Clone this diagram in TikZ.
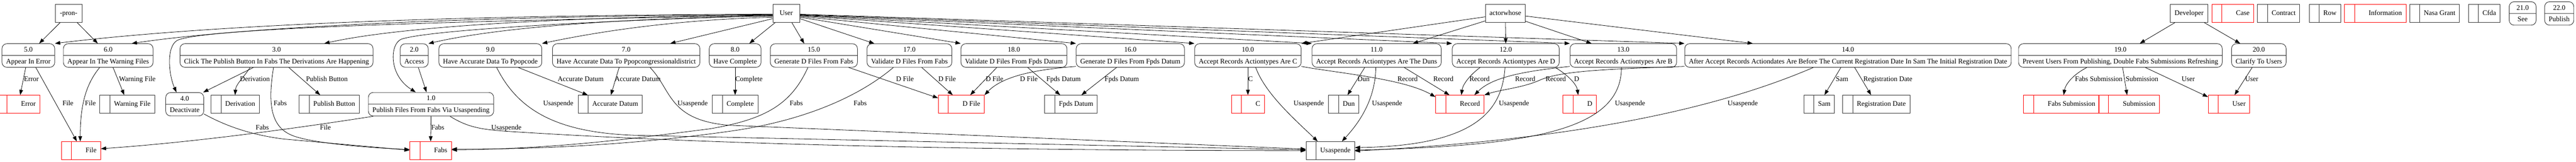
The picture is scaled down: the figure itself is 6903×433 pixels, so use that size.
\documentclass[tikz,border=0pt]{standalone}
\usepackage{fontspec}
\setmainfont{Liberation Serif}
\usepackage{tikz}
\usetikzlibrary{arrows.meta}
\usetikzlibrary{shapes.multipart}

\definecolor{gvred}{HTML}{FF0000}
\definecolor{gvline}{HTML}{333333}
\newcommand{\pst}{\rule[-3.5pt]{0pt}{19pt}}

\tikzset{
	proc/.style={rectangle split, rectangle split parts=2, draw=gvline,
		line width=1.3pt, rounded corners=13pt, inner xsep=11pt, inner ysep=5.5pt,
		minimum width=72pt},
	ext/.style={draw=gvline, line width=1.3pt, minimum width=72pt,
		minimum height=48pt, inner xsep=11pt, text height=13pt, text depth=4pt},
	datastore/.style={draw=#1, line width=1.3pt, minimum width=72pt,
		minimum height=48pt, inner xsep=11pt, inner ysep=0pt,
		text height=13pt, text depth=4pt,
		execute at begin node={\hspace*{27pt}},
		path picture={\draw[#1, line width=1.3pt]
			([xshift=27pt]path picture bounding box.north west) --
			([xshift=27pt]path picture bounding box.south west);}},
	datastore/.default=gvline,
	flowline/.style={draw=black, line width=1.1pt},
	lbl/.style={inner sep=0pt, text height=13pt, text depth=4pt}
}

\begin{document}
\begin{tikzpicture}[x=1pt, y=-1pt, font=\fontsize{18.67}{22}\selectfont]
	\useasboundingbox (0,0) rectangle (6903,433);
	% external entities
	\begin{scope}[every node/.style={ext}]
		\node (pron) at (184,36) {-pron-};
		\node (User) at (2107,36) {User};
		\node (actorwhose) at (4034,36) {actorwhose};
		\node (Developer) at (5866,36) {Developer};
	\end{scope}
	% processes
	\begin{scope}[every node/.style={proc}]
		\node (p5) at (76,148.5) {\pst 5.0\nodepart{two}\pst Appear In Error};
		\node (p6) at (290,148.5) {\pst 6.0\nodepart{two}\pst Appear In The Warning Files};
		\node (p3) at (741,148.5) {\pst 3.0\nodepart{two}\pst Click The Publish Button In Fabs The Derivations Are Happening};
		\node (p2) at (1110,148.5) {\pst 2.0\nodepart{two}\pst Access};
		\node (p9) at (1314,148.5) {\pst 9.0\nodepart{two}\pst Have Accurate Data To Ppopcode};
		\node (p7) at (1678,148.5) {\pst 7.0\nodepart{two}\pst Have Accurate Data To Ppopcongressionaldistrict};
		\node (p8) at (1970,148.5) {\pst 8.0\nodepart{two}\pst Have Complete};
		\node (p15) at (2181,148.5) {\pst 15.0\nodepart{two}\pst Generate D Files From Fabs};
		\node (p17) at (2437,148.5) {\pst 17.0\nodepart{two}\pst Validate D Files From Fabs};
		\node (p18) at (2717,148.5) {\pst 18.0\nodepart{two}\pst Validate D Files From Fpds Datum};
		\node (p16) at (3029,148.5) {\pst 16.0\nodepart{two}\pst Generate D Files From Fpds Datum};
		\node (p10) at (3344,148.5) {\pst 10.0\nodepart{two}\pst Accept Records Actiontypes Are C};
		\node (p11) at (3689,148.5) {\pst 11.0\nodepart{two}\pst Accept Records Actiontypes Are The Duns};
		\node (p12) at (4035,148.5) {\pst 12.0\nodepart{two}\pst Accept Records Actiontypes Are D};
		\node (p13) at (4350,148.5) {\pst 13.0\nodepart{two}\pst Accept Records Actiontypes Are B};
		\node (p14) at (4952,148.5) {\pst 14.0\nodepart{two}\pst After Accept Records Actiondates Are Before The Current Registration Date In Sam The Initial Registration Date};
		\node (p19) at (5682,148.5) {\pst 19.0\nodepart{two}\pst Prevent Users From Publishing, Double Fabs Submissions Refreshing};
		\node (p20) at (6053,148.5) {\pst 20.0\nodepart{two}\pst Clarify To Users};
		\node (p4) at (495,279) {\pst 4.0\nodepart{two}\pst Deactivate};
		\node (p1) at (1155,279) {\pst 1.0\nodepart{two}\pst Publish Files From Fabs Via Usaspending};
		\node (p21) at (6760,36) {\pst 21.0\nodepart{two}\pst See};
		\node (p22) at (6858,36) {\pst 22.0\nodepart{two}\pst Publish};
	\end{scope}
	% data stores
	\begin{scope}[every node/.style={datastore}]
		\node[datastore=gvred] (sError) at (49,279) {Error};
		\node (sWarning) at (341,279) {Warning File};
		\node (sDerivation) at (630,279) {Derivation};
		\node (sPublish) at (882,279) {Publish Button};
		\node (sAccurate) at (1635,279) {Accurate Datum};
		\node (sComplete) at (1970,279) {Complete};
		\node[datastore=gvred] (sDFile) at (2576,279) {D File};
		\node (sFpds) at (2870,279) {Fpds Datum};
		\node[datastore=gvred] (sC) at (3344,279) {C};
		\node (sDun) at (3601,279) {Dun};
		\node[datastore=gvred] (sRecord) at (3912,279) {Record};
		\node[datastore=gvred] (sD) at (4233,279) {D};
		\node (sSam) at (4875,279) {Sam};
		\node (sRegDate) at (5028,279) {Registration Date};
		\node[datastore=gvred] (sFabsSub) at (5524,279) {Fabs Submission};
		\node[datastore=gvred] (sSubmission) at (5705,279) {Submission};
		\node[datastore=gvred] (sUser) at (5973,279) {User};
		\node[datastore=gvred] (sFile) at (217,403) {File};
		\node[datastore=gvred] (sFabs) at (1154,403) {Fabs};
		\node (sUsaspende) at (3565,403) {Usaspende};
		\node[datastore=gvred] (sCase) at (5983,36) {Case};
		\node (sContract) at (6106,36) {Contract};
		\node (sRow) at (6230,36) {Row};
		\node[datastore=gvred] (sInformation) at (6365,36) {Information};
		\node (sNasa) at (6524,36) {Nasa Grant};
		\node (sCfda) at (6657,36) {Cfda};
	\end{scope}
	% flows
	\begin{scope}[>={Triangle[length=14pt,width=10pt]}, every edge/.style={flowline}]
		\path [->] ([xshift=-23pt]pron.south) edge ([xshift=29pt]p5.north);
		\path [->] ([xshift=23pt]pron.south) edge ([xshift=-28pt]p6.north);
		% User, to the left
		\draw [->, flowline] ([yshift=-2pt]User.west) .. controls (1300,40) and (600,62) .. (p5.north east);
		\draw [->, flowline] ([yshift=-3pt]User.west) .. controls (1400,42) and (700,65) .. ([xshift=63pt]p6.north);
		\draw [->, flowline] ([yshift=-4pt]User.west) .. controls (1600,44) and (1100,65) .. ([xshift=128pt]p3.north);
		\draw [->, flowline] ([yshift=-7pt]User.west) .. controls (1700,48) and (1350,70) .. (p2.north east);
		\draw [->, flowline] ([yshift=-10pt]User.west) .. controls (1850,52) and (1650,75) .. (p9.north east);
		\path [->] ([yshift=-14pt]User.west) edge ([xshift=118pt]p7.north);
		\draw [->, flowline] ([yshift=-5pt]User.west) .. controls (1100,58) and (540,78) .. (475,108) .. controls (445,125) and (452,200) .. ([xshift=-22pt]p4.north);
		\draw [->, flowline] ([yshift=-6pt]User.west) .. controls (1600,55) and (1150,80) .. (1075,105) .. controls (1045,118) and (1040,200) .. ([xshift=-41pt]p1.north);
		\path [->] ([xshift=-30pt]User.south) edge ([xshift=38pt]p8.north);
		\path [->] ([xshift=15pt]User.south) edge ([xshift=-26pt]p15.north);
		% User, to the right
		\path [->] ([yshift=-14pt]User.east) edge ([xshift=-94pt]p17.north);
		\path [->] ([yshift=-10pt]User.east) edge (p18.north west);
		\path [->] ([yshift=-8pt]User.east) edge (p16.north west);
		\path [->] ([yshift=-6pt]User.east) edge (p10.north west);
		\path [->] ([yshift=-5pt]User.east) edge (p11.north west);
		\path [->] ([yshift=-4pt]User.east) edge (p12.north west);
		\path [->] ([yshift=-3pt]User.east) edge (p13.north west);
		\path [->] ([yshift=-2pt]User.east) edge (p14.north west);
		% actorwhose
		\path [->] ([yshift=-9pt]actorwhose.west) edge (p10.north east);
		\path [->] ([yshift=-20pt]actorwhose.west) edge ([xshift=97pt]p11.north);
		\path [->] (actorwhose.south) edge (p12.north);
		\path [->] ([yshift=-21pt]actorwhose.east) edge ([xshift=-85pt]p13.north);
		\path [->] ([yshift=-7pt]actorwhose.east) edge ([xshift=-255pt]p14.north);
		% Developer
		\path [->] ([xshift=-38pt]Developer.south) edge ([xshift=52pt]p19.north);
		\path [->] ([xshift=41pt]Developer.south) edge ([xshift=-50pt]p20.north);
		% processes 5.0 to 1.0
		\path [->] ([xshift=-7pt]p5.south) edge ([xshift=5pt]sError.north) node[lbl] at (84,213) {Error};
		\path [->] ([xshift=20pt]p5.south) edge ([xshift=-11pt]sFile.north) node[lbl] at (182,278) {File};
		\draw [->, flowline] ([xshift=-23pt]p6.south) .. controls (235,220) and (215,270) .. ([xshift=-2pt]sFile.north) node[lbl] at (242,278) {File};
		\path [->] ([xshift=13pt]p6.south) edge ([xshift=-8pt]sWarning.north) node[lbl] at (368,213) {Warning File};
		\path [->] ([xshift=-62pt]p3.south) edge ([xshift=-2pt]p4.north east);
		\draw [->, flowline] ([xshift=-71pt]p3.south) .. controls (655,205) and (632,225) .. (sDerivation.north) node[lbl] at (683,213) {Derivation};
		\path [->] ([xshift=33pt]p3.south) edge ([xshift=-24pt]sPublish.north) node[lbl] at (876,213) {Publish Button};
		\draw [->, flowline] ([xshift=-8pt]p3.south) .. controls (715,290) and (730,345) .. (790,365) .. controls (850,385) and (1000,396) .. ([yshift=3pt]sFabs.west) node[lbl] at (751,278) {Fabs};
		\draw [->, flowline] ([yshift=6pt]p4.south east) .. controls (610,340) and (680,362) .. (760,372) -- ([yshift=1pt]sFabs.west) node[lbl] at (703,343) {Fabs};
		\draw [->, flowline] ([xshift=-155pt]p1.south) .. controls (750,350) and (500,382) .. ([yshift=5pt]sFile.east) node[lbl] at (872,343) {File};
		\path [->] (p1.south) edge (sFabs.north) node[lbl] at (1173,343) {Fabs};
		\draw [->, flowline] ([xshift=51pt]p1.south) .. controls (1260,345) and (1300,348) .. (1400,354) .. controls (1900,385) and (2600,403) .. (sUsaspende.west) node[lbl] at (1357,343) {Usaspende};
		\path [->] ([xshift=11pt]p2.south) edge ([xshift=-12pt]p1.north);
		% processes 9.0 to 16.0
		\path [->] ([xshift=75pt]p9.south) edge ([xshift=-60pt]sAccurate.north) node[lbl] at (1556,213) {Accurate Datum};
		\draw [->, flowline] ([xshift=17pt]p9.south) .. controls (1390,300) and (1500,355) .. (1700,362) -- ([yshift=2pt]sUsaspende.west) node[lbl] at (1496,278) {Usaspende};
		\path [->] ([xshift=-19pt]p7.south) edge ([xshift=2pt]sAccurate.north) node[lbl] at (1709,213) {Accurate Datum};
		\draw [->, flowline] ([xshift=64pt]p7.south) .. controls (1800,240) and (1790,320) .. (1950,335) -- ([yshift=4pt]sUsaspende.west) node[lbl] at (1856,278) {Usaspende};
		\path [->] (p8.south) edge (sComplete.north) node[lbl] at (2007,213) {Complete};
		\draw [->, flowline] ([xshift=-16pt]p15.south) .. controls (2120,280) and (2050,320) .. (1900,345) .. controls (1700,370) and (1500,398) .. ([yshift=2pt]sFabs.east) node[lbl] at (2134,278) {Fabs};
		\path [->] ([xshift=93pt]p15.south) edge ([yshift=-8pt]sDFile.north west) node[lbl] at (2425,213) {D File};
		\draw [->, flowline] ([xshift=-43pt]p17.south) .. controls (2300,260) and (2150,325) .. (1950,352) .. controls (1750,380) and (1500,400) .. ([yshift=4pt]sFabs.east) node[lbl] at (2305,278) {Fabs};
		\path [->] ([xshift=33pt]p17.south) edge ([xshift=-23pt]sDFile.north) node[lbl] at (2538,213) {D File};
		\path [->] ([xshift=-46pt]p18.south) edge ([xshift=24pt]sDFile.north) node[lbl] at (2665,213) {D File};
		\path [->] ([xshift=37pt]p18.south) edge ([xshift=-29pt]sFpds.north) node[lbl] at (2850,213) {Fpds Datum};
		\draw [->, flowline] ([yshift=3pt]p16.south west) .. controls (2790,185) and (2690,200) .. (sDFile.north east) node[lbl] at (2757,213) {D File};
		\path [->] ([xshift=-37pt]p16.south) edge ([xshift=28pt]sFpds.north) node[lbl] at (3006,213) {Fpds Datum};
		% processes 10.0 to 14.0
		\path [->] (p10.south) edge (sC.north) node[lbl] at (3351,213) {C};
		\draw [->, flowline] ([xshift=21pt]p10.south) .. controls (3390,250) and (3470,320) .. ([xshift=-34pt]sUsaspende.north) node[lbl] at (3507,278) {Usaspende};
		\draw [->, flowline] ([yshift=3pt]p10.south east) .. controls (3580,195) and (3760,210) .. ([yshift=-5pt]sRecord.north west) node[lbl] at (3772,213) {Record};
		\path [->] ([xshift=-32pt]p11.south) edge ([xshift=10pt]sDun.north) node[lbl] at (3654,213) {Dun};
		\draw [->, flowline] ([xshift=-2pt]p11.south) .. controls (3685,260) and (3650,320) .. ([xshift=31pt]sUsaspende.north) node[lbl] at (3717,278) {Usaspende};
		\path [->] ([xshift=74pt]p11.south) edge ([xshift=-28pt]sRecord.north) node[lbl] at (3868,213) {Record};
		\draw [->, flowline] ([xshift=-69pt]p12.south) .. controls (3940,200) and (3920,225) .. ([xshift=4pt]sRecord.north) node[lbl] at (3965,213) {Record};
		\draw [->, flowline] ([xshift=-2pt]p12.south) .. controls (4025,300) and (3950,390) .. ([yshift=8pt]sUsaspende.east) node[lbl] at (4057,278) {Usaspende};
		\draw [->, flowline] ([xshift=133pt]p12.south) .. controls (4200,200) and (4225,225) .. ([xshift=-4pt]sD.north) node[lbl] at (4225,213) {D};
		\draw [->, flowline] ([yshift=3pt]p13.south west) .. controls (4090,190) and (4000,205) .. ([xshift=39pt]sRecord.north) node[lbl] at (4087,213) {Record};
		\draw [->, flowline] ([xshift=-5pt]p13.south) .. controls (4345,350) and (4100,390) .. ([yshift=1pt]sUsaspende.east) node[lbl] at (4368,278) {Usaspende};
		\draw [->, flowline] ([yshift=3pt]p14.south west) .. controls (4300,185) and (4180,190) .. (4125,215) .. controls (4080,235) and (4020,240) .. (sRecord.north east) node[lbl] at (4169,213) {Record};
		\draw [->, flowline] ([xshift=-93pt]p14.south) .. controls (4650,270) and (4300,370) .. ([yshift=-1pt]sUsaspende.east) node[lbl] at (4670,278) {Usaspende};
		\path [->] ([xshift=-19pt]p14.south) edge ([xshift=14pt]sSam.north) node[lbl] at (4936,213) {Sam};
		\path [->] ([xshift=18pt]p14.south) edge ([xshift=-14pt]sRegDate.north) node[lbl] at (5059,213) {Registration Date};
		% processes 19.0 and 20.0
		\draw [->, flowline] ([xshift=-90pt]p19.south) .. controls (5555,200) and (5535,225) .. ([xshift=6pt]sFabsSub.north) node[lbl] at (5624,213) {Fabs Submission};
		\path [->] ([xshift=6pt]p19.south) edge ([xshift=-5pt]sSubmission.north) node[lbl] at (5740,213) {Submission};
		\path [->] ([xshift=67pt]p19.south) edge ([yshift=-5pt]sUser.north west) node[lbl] at (5864,213) {User};
		\path [->] ([xshift=-18pt]p20.south) edge ([xshift=15pt]sUser.north) node[lbl] at (6034,213) {User};
	\end{scope}
\end{tikzpicture}
\end{document}
